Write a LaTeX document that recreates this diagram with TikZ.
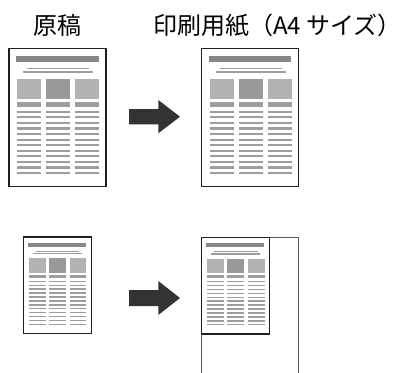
\documentclass[tikz,border=0pt]{standalone}
\usepackage{fontspec}
\usepackage{tikz}
\newfontfamily\cjk{Noto Sans CJK JP}
\definecolor{barc}{gray}{0.53}
\definecolor{linec}{gray}{0.62}
\definecolor{blockl}{gray}{0.70}
\definecolor{blockd}{gray}{0.60}
\definecolor{inkc}{gray}{0.20}

\begin{document}
\begin{tikzpicture}[x=1pt, y=-1pt, every node/.style={font=\cjk\fontsize{24}{27}\selectfont},
    sheet/.style={draw=black!88, line width=1.3pt, fill=white},
    bigsheet/.style={draw=black!65, line width=1.1pt},
    bigarrow/.style={fill=inkc},
    pics/docpage/.style={code={
      \draw[sheet] (0,0) rectangle (97,138);
      \fill[barc] (7,8) rectangle (89.5,14);
      \fill[linec] (18,19.3) rectangle (80,21);
      \fill[linec] (14,23) rectangle (84,24.7);
      \foreach \x/\c in {8/blockl,37/blockd,66/blockl} {
        \fill[\c] (\x,30.7) rectangle +(24,20.3);
        \fill[linec] (\x,54) rectangle +(24,4.3);
        \foreach \k in {0,...,11}
          \fill[linec] (\x,62.3+5.58*\k) rectangle +(24,2.2);
      }
    }}]
  \useasboundingbox (0,0) rectangle (403,372);
  \node (orig) at (57,25) {原稿};
  \node[anchor=west, inner sep=0pt] (paper) at (153,25) {印刷用紙（A4 サイズ）};
  % top row
  \pic at (9,48.3) {docpage};
  \fill[bigarrow] (129,109) -- (158.3,109) -- (158.3,100) -- (180,116.7)
    -- (158.3,133.3) -- (158.3,124.3) -- (129,124.3) -- cycle;
  \pic at (201.5,48.3) {docpage};
  % bottom row
  \pic[scale=.7] at (23.3,237) {docpage};
  \fill[bigarrow] (129,290) -- (158.3,290) -- (158.3,281) -- (180,298)
    -- (158.3,315) -- (158.3,306) -- (129,306) -- cycle;
  \draw[bigsheet] (201.5,237.3) rectangle +(97,138);
  \pic[scale=.7] at (201.5,237.3) {docpage};
\end{tikzpicture}
\end{document}
